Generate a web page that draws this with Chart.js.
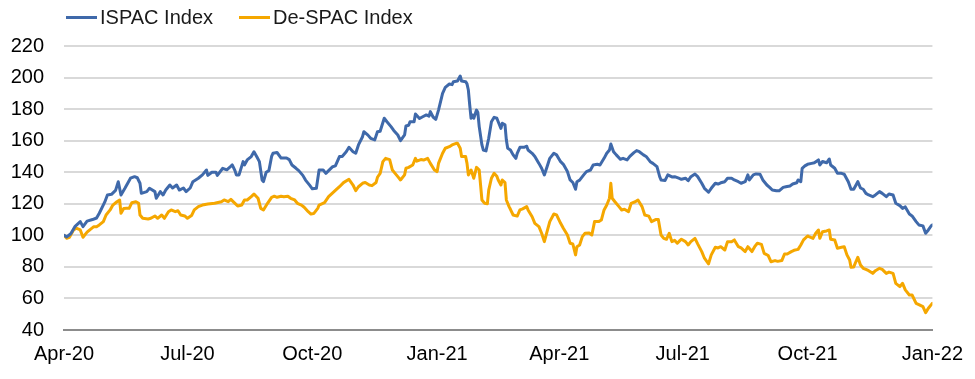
<!DOCTYPE html>
<html><head><meta charset="utf-8">
<script src="https://cdn.jsdelivr.net/npm/chart.js@4.4.1/dist/chart.umd.min.js"></script>
<style>
html,body{margin:0;padding:0;background:#fff;}
#wrap{position:relative;width:975px;height:379px;}
#legend{position:absolute;left:66px;top:5px;font:20px "Liberation Sans",Arial,sans-serif;color:#1a1a1a;display:flex;align-items:center;white-space:nowrap;line-height:24px}
.item{display:flex;align-items:center;margin-right:26px}
.swatch{width:31px;height:3px;margin-right:3px}
</style></head><body>
<div id="wrap"><canvas id="c" width="975" height="379"></canvas><div id="legend"></div></div>
<script>
// x positions are days since 1 Apr 2020
const tickDays = [0, 91, 183, 275, 365, 456, 548, 640];
const tickLabels = ["Apr-20", "Jul-20", "Oct-20", "Jan-21", "Apr-21", "Jul-21", "Oct-21", "Jan-22"];
const seriesNames = ["ISPAC Index", "De-SPAC Index"];

const ispacDay = [0,2,5,8,12,14,17,21,24,26,30,32,35,38,40,42,45,49,52,54,56,57,61,63,67,68,71,73,75,78,80,83,85,88,90,93,95,99,102,105,106,109,112,113,117,120,122,124,126,127,129,132,133,135,138,140,142,144,146,147,149,151,153,154,157,160,164,166,168,171,173,176,178,181,183,186,188,191,193,195,198,200,203,205,208,210,213,215,217,220,221,224,226,229,231,233,236,238,241,243,246,248,251,252,254,255,258,259,262,264,267,269,270,272,274,276,279,281,284,286,287,290,292,293,296,297,298,299,300,301,302,304,305,306,308,309,311,313,315,317,319,320,322,323,325,326,327,329,331,333,334,336,339,341,342,345,347,350,352,354,356,358,361,363,366,368,371,373,375,377,378,380,383,385,388,390,393,395,398,400,402,403,405,407,410,412,415,417,420,422,424,427,429,432,434,437,439,440,443,445,448,450,453,455,458,460,462,465,467,470,472,475,477,480,482,484,487,489,492,494,497,499,502,504,505,508,510,513,515,518,520,522,525,527,530,532,535,537,540,541,543,544,546,548,551,553,556,557,559,562,564,565,568,570,573,575,578,580,582,585,587,589,591,593,596,598,601,603,606,608,611,613,616,618,620,623,625,628,630,633,635,637,639,640];
const ispacValue = [100,99,101,105.5,108.7,105.5,109,110,111,114,121,125.6,126,128.5,134,125.6,130,136.2,137.2,136.5,133,126.6,127.7,129.8,127.7,123.5,127.7,125.6,128.7,131.9,130,131.9,128.7,130,127.7,130,134,136.2,138.3,141.4,138,140,140,138,142.5,141.5,143,144.6,141,138.3,138.3,146.7,144.6,147.8,149.9,153,150,146.7,135.1,134,140,141,150,152,152.5,149,149,148,144.6,142.5,141,138,135,131.8,129.5,129.8,141.4,141.4,139.3,141,143.5,144,149.9,150,153,155.8,153,152,157.3,162.5,165.7,163.5,161.5,160.5,165.7,166,174.2,172,168.9,166.5,163.6,160,163.6,169.3,169.8,172,172,176.9,174,175,176.3,175.5,178.4,175,173.5,179.4,190,193.8,195.9,195.5,197.4,197.8,201,197.8,197.4,196,192.1,182.6,174.2,176.3,174.2,179.4,177.8,168.9,157.3,154.1,153.5,161.5,172,174.8,174.2,172,167.8,171,170,160.4,155.2,154.1,151,148.8,152,155.8,155.8,156.5,154.1,152,150,145.6,142.5,138.3,143.5,148.8,152,151,146.7,145,140.4,135.1,133.5,129.2,134,135,138.3,140.4,141.4,144.6,145,144.6,148.8,152,154.1,157.9,153,151,148.2,148.8,147.8,150,152.4,153.7,153,151,150,146.7,145.6,143.5,137.2,135.1,134.8,138.3,137,137.2,136.2,135.5,136.2,134.6,137.2,138.9,137.2,133,129.8,127.3,129.8,133,132.5,133.3,134,136.2,136.2,135.1,134,133,134,138.3,135.1,138.3,138.9,138.7,135.1,131.9,130.4,128.7,128.2,128.2,130.4,130.8,131.3,132.5,133.3,135.1,134,142.5,144,145,145.6,146,147.8,144.6,146.8,146,148.4,144.6,142.5,139.3,139.3,138.7,134,129.2,129.2,134,130,129.2,126.6,125.6,124.5,125.6,127.7,126.6,124.5,126.2,125.6,120.3,118.8,117.1,118,113.5,112.3,108.7,106.6,106,101.3,103.4,105.9,106.6];

const despacDay = [0,2,4,7,9,12,14,17,19,22,24,26,29,31,34,36,39,41,42,44,46,48,50,53,55,56,58,62,64,67,69,72,74,77,79,82,84,86,89,91,94,96,99,102,106,111,116,118,121,123,126,128,131,133,135,138,140,143,145,147,150,153,155,157,160,162,165,167,170,172,175,177,180,182,184,187,188,192,195,199,203,206,210,213,215,217,220,222,225,227,230,231,233,235,237,240,242,244,246,248,251,252,254,257,259,260,263,265,268,270,273,275,276,279,281,284,286,289,290,292,293,296,297,298,300,302,304,306,307,308,310,312,313,315,317,319,320,322,323,325,326,328,329,331,334,336,338,341,342,345,347,350,352,354,356,358,361,363,366,368,371,373,375,377,378,380,382,384,387,389,391,394,396,398,400,402,403,404,406,409,411,413,416,418,421,423,426,428,431,433,436,438,440,442,444,446,448,450,452,454,455,458,460,462,465,467,470,472,475,477,480,482,484,487,489,492,494,497,499,502,504,507,509,511,514,516,519,521,524,526,529,531,533,536,538,541,543,545,548,549,552,554,556,557,559,562,564,565,568,570,573,575,577,579,580,582,585,587,589,591,593,596,598,601,603,606,608,611,613,616,618,620,623,625,628,630,633,635,637,639,640];
const despacValue = [100,98.1,98.7,103.4,104.5,103.4,98.8,102,103.5,105.5,105.5,106.6,108.7,112.9,116.1,119.2,121.3,122.4,114,117,117.1,117.1,120.7,121.3,120.3,112.9,110.8,110.4,110.8,112.3,110.8,112.9,110.8,115,116.1,115,115.6,112.9,112.3,110.8,112.5,116.1,118.2,119.2,119.8,120.3,121.3,122.4,121.3,122.8,120.3,118.6,119.2,122.4,122.4,124.5,126.2,123.5,117.1,116.1,120.3,124.1,124.8,124.1,124.8,124.5,124.8,123.5,122.4,120.3,119.2,117.8,115,113.5,113.8,117.1,119.2,120.7,124.5,127.7,130.8,133.4,135.5,131.9,128.3,130.8,133,133.5,131.9,131.5,133.5,136.8,139.3,146.7,148.8,148,141.4,139.3,137.2,135.1,138.3,142.5,143.1,144.6,148.8,147,148,147.7,148.8,145.6,141.4,140.4,145.6,152,155.2,156.2,157.3,158.3,158.3,155.2,149.9,149.9,145.6,138.3,141.4,136.2,143.1,141.4,131.9,122.4,120.3,120,128.7,136.2,139.3,137.5,135.1,131.9,135.1,133.4,122.4,118.2,116.5,112.9,112.2,116.1,116.8,118.2,116.1,111.8,107.6,105.5,101.3,96,102.3,108.7,113.5,113,107.6,104.5,100.2,95,94.5,87.6,92.8,93.9,99.2,101.3,101.5,100.2,108.7,108.7,109.7,116.1,119.2,123.5,133,123.5,121.3,118.2,116.1,116.5,115,120.3,121.3,122.4,118.2,112.9,112.2,108.7,110,110,100.2,98.1,97.5,101.3,96,96.8,95,96.8,97.5,96,93.9,96,98.1,94.6,89.7,85.5,81.9,87.6,92.4,92,92.8,90.7,96,96,97.1,92.8,92,89.7,92.8,89.7,92.8,95,94.3,88.6,87.2,83.3,84,83.5,84,88.2,88.2,89.7,90.5,91.1,93.9,97.1,99.6,99.2,98.1,101.3,103.4,98.1,102.3,102.8,103.4,97.5,97,91.8,92.4,92.8,87.6,84.4,79.8,80,86.1,81.2,79.1,78.4,77.6,75.9,77.6,79.1,78.4,75.9,76.7,75.9,69.6,67.5,69.6,65.4,62.2,62.2,56.9,56.1,54.8,51,53.8,55.9,56.9];

const colors = ["#3F69AA", "#F5A700"];
const FONT = '"Liberation Sans", Arial, sans-serif';

function pts(days, vals) { return days.map((d, i) => ({ x: d, y: vals[i] })); }

const datasets = [
  { label: seriesNames[0], data: pts(ispacDay, ispacValue), borderColor: colors[0] },
  { label: seriesNames[1], data: pts(despacDay, despacValue), borderColor: colors[1] }
].map(d => Object.assign(d, { borderWidth: 3, pointRadius: 0, tension: 0, borderJoinStyle: 'round', borderCapStyle: 'round', fill: false }));

// HTML legend
const lg = document.getElementById('legend');
datasets.forEach(d => {
  const it = document.createElement('div'); it.className = 'item';
  const sw = document.createElement('span'); sw.className = 'swatch'; sw.style.background = d.borderColor;
  const tx = document.createElement('span'); tx.textContent = d.label;
  it.appendChild(sw); it.appendChild(tx); lg.appendChild(it);
});

new Chart(document.getElementById('c'), {
  type: 'line',
  data: { datasets },
  options: {
    responsive: false,
    animation: false,
    layout: { padding: { top: 46, right: 40, left: 0, bottom: 0 } },
    plugins: { legend: { display: false }, tooltip: { enabled: false } },
    scales: {
      x: {
        type: 'linear', min: tickDays[0], max: tickDays[tickDays.length - 1],
        afterBuildTicks: s => { s.ticks = tickDays.map(v => ({ value: v })); },
        afterFit: s => { s.height = 49; },
        grid: { display: false, drawTicks: false },
        border: { display: true, color: '#8c8c8c', width: 2 },
        ticks: { autoSkip: false, maxRotation: 0, padding: 12, color: '#000',
                 font: { family: FONT, size: 20 },
                 callback: (v, i) => tickLabels[i] }
      },
      y: {
        min: 40, max: 220,
        afterFit: s => { s.width = 64; },
        grid: { color: '#d9d9d9', lineWidth: 2, drawTicks: false },
        border: { display: false },
        ticks: { stepSize: 20, padding: 20, color: '#000', font: { family: FONT, size: 20 } }
      }
    }
  }
});
</script>
</body></html>
